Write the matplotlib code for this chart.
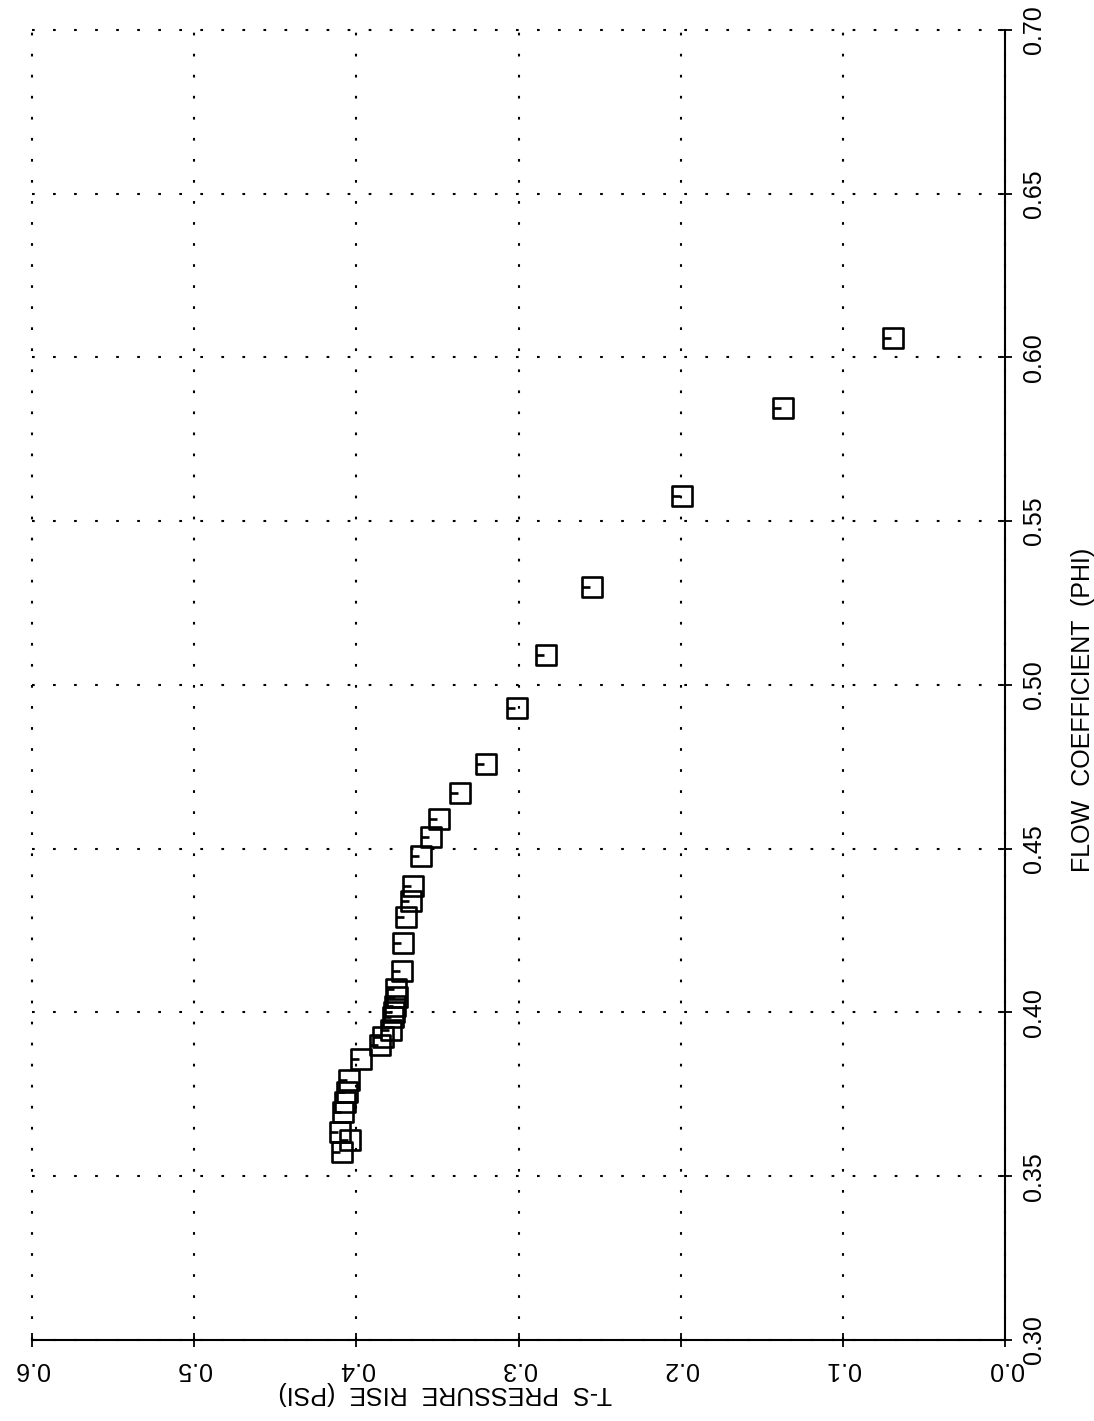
import numpy as np
import matplotlib
matplotlib.use("Agg")
import matplotlib.pyplot as plt
from matplotlib.path import Path

plt.rcParams['font.family'] = ['Liberation Sans', 'DejaVu Sans']

# T-S pressure rise (psi) vs flow coefficient (phi)
pressure_rise = [0.069, 0.137, 0.199, 0.255, 0.283, 0.301, 0.320, 0.336,
                 0.349, 0.354, 0.360, 0.365, 0.366, 0.3695, 0.371, 0.372,
                 0.3756, 0.375, 0.3762, 0.3768, 0.3774, 0.3787, 0.3835, 0.3854,
                 0.397, 0.4043, 0.406, 0.4067, 0.408, 0.4098, 0.4037, 0.409]
flow_coeff = [0.606, 0.5845, 0.5576, 0.530, 0.509, 0.493, 0.476, 0.467,
              0.459, 0.4537, 0.4478, 0.4387, 0.4341, 0.429, 0.4213, 0.4128,
              0.4073, 0.4046, 0.4021, 0.400, 0.3985, 0.3945, 0.3924, 0.390,
              0.3857, 0.3793, 0.3756, 0.3726, 0.3695, 0.3634, 0.361, 0.3573]

p_ticks = [0.0, 0.1, 0.2, 0.3, 0.4, 0.5, 0.6]
phi_ticks = [0.30, 0.35, 0.40, 0.45, 0.50, 0.55, 0.60, 0.65, 0.70]

# open square with a short tick from the left edge
verts = [(-1, -1), (1, -1), (1, 1), (-1, 1), (-1, -1), (-1, 0), (-0.2, 0)]
codes = [Path.MOVETO, Path.LINETO, Path.LINETO, Path.LINETO, Path.CLOSEPOLY,
         Path.MOVETO, Path.LINETO]
sq_tick = Path(verts, codes)

fig = plt.figure(figsize=(10.94, 14.21), dpi=100)
ax = fig.add_axes([0.029, 0.057, 0.890, 0.922])

ax.plot(pressure_rise, flow_coeff, linestyle='none', marker=sq_tick,
        markersize=15, markerfacecolor='none', markeredgecolor='black',
        markeredgewidth=1.9, zorder=3)

ax.set_xlim(0.6, 0.0)
ax.set_ylim(0.30, 0.70)
ax.set_xticks(p_ticks)
ax.set_xticklabels([f"{v:.1f}" for v in p_ticks], rotation=180)
ax.set_yticks(phi_ticks)
ax.set_yticklabels([f"{v:.2f}" for v in phi_ticks], rotation=90, va='center')

ax.yaxis.tick_right()
ax.yaxis.set_label_position('right')
ax.spines['left'].set_visible(False)
ax.spines['top'].set_visible(False)
ax.spines['right'].set_linewidth(1.5)
ax.spines['bottom'].set_linewidth(1.5)
ax.tick_params(axis='both', direction='inout', length=10, width=1.3,
               labelsize=18, pad=7)

ax.grid(True, color='black', linewidth=1.5, linestyle=(0, (1.3, 8.8)))
for line in ax.get_xgridlines() + ax.get_ygridlines():
    line.set_clip_on(False)

ax.set_xlabel("T-S  PRESSURE  RISE  (PSI)", fontsize=18, rotation=180)
ax.xaxis.set_label_coords(0.425, -0.031)
ax.set_ylabel("FLOW  COEFFICIENT  (PHI)", fontsize=18, rotation=90,
              va='center')
ax.yaxis.set_label_coords(1.08, 0.481)

fig.savefig("out.png", dpi=100, facecolor='white')
